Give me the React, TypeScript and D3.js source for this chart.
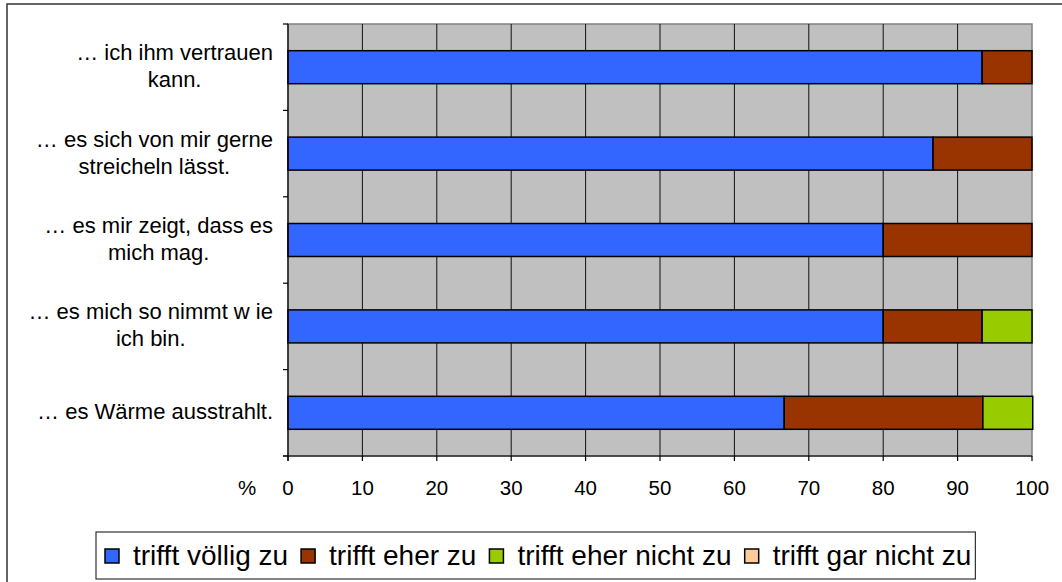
import React, { useRef, useEffect } from 'react'
import { select, scaleLinear, scaleBand, range } from 'd3'

// categories from top to bottom, each label split in its lines
const categories: string[][] = [
    ['… ich ihm vertrauen', 'kann.'],
    ['… es sich von mir gerne', 'streicheln lässt.'],
    ['… es mir zeigt, dass es', 'mich mag.'],
    ['… es mich so nimmt w ie', 'ich bin.'],
    ['… es Wärme ausstrahlt.'],
]
const seriesNames = ['trifft völlig zu', 'trifft eher zu', 'trifft eher nicht zu', 'trifft gar nicht zu']
const seriesColors = ['#3366FF', '#993300', '#99CC00', '#FFCC99']
const voelligZu = [93.3, 86.7, 80, 80, 66.7]
const eherZu = [6.7, 13.3, 20, 13.3, 26.7]
const eherNichtZu = [0, 0, 0, 6.7, 6.7]
const garNichtZu = [0, 0, 0, 0, 0]
const xTicks = [0, 10, 20, 30, 40, 50, 60, 70, 80, 90, 100]

const FONT = '"Liberation Sans", Arial, sans-serif'

export default function App() {
    const svgRef = useRef<SVGSVGElement>(null)
    const width = 1062
    const height = 582
    const margin = { top: 24, right: 30, bottom: 126, left: 288 }

    useEffect(() => {
        draw()
    }, [])

    const draw = () => {
        const svg = select(svgRef.current)
        svg.selectAll('*').remove()

        const values = [voelligZu, eherZu, eherNichtZu, garNichtZu]
        const x = scaleLinear().domain([0, 100]).range([margin.left, width - margin.right])
        const y = scaleBand<number>()
            .domain(range(categories.length))
            .range([margin.top, height - margin.bottom])
        const barH = y.bandwidth() * 0.382
        const x0 = x(0), x1 = x(100)
        const y0 = margin.top, y1 = height - margin.bottom

        // outer frame
        svg.append('rect')
            .attr('x', 7).attr('y', 4)
            .attr('width', width).attr('height', height)
            .attr('fill', 'white').attr('stroke', '#333').attr('stroke-width', 1.5)

        // plot area
        svg.append('rect')
            .attr('x', x0).attr('y', y0)
            .attr('width', x1 - x0).attr('height', y1 - y0)
            .attr('fill', '#C0C0C0').attr('stroke', '#808080').attr('stroke-width', 1.5)

        // vertical grid
        svg.append('g').selectAll('line')
            .data(xTicks.slice(1, -1))
            .join('line')
            .attr('x1', d => x(d)).attr('x2', d => x(d))
            .attr('y1', y0).attr('y2', y1)
            .attr('stroke', '#111').attr('stroke-width', 1)

        // stacked bars
        categories.forEach((_, i) => {
            let acc = 0
            values.forEach((s, k) => {
                const v = s[i]
                if (v > 0) {
                    svg.append('rect')
                        .attr('x', x(acc)).attr('y', y(i)! + (y.bandwidth() - barH) / 2)
                        .attr('width', x(acc + v) - x(acc)).attr('height', barH)
                        .attr('fill', seriesColors[k]).attr('stroke', '#000').attr('stroke-width', 1.5)
                }
                acc += v
            })
        })

        // axes
        svg.append('line')
            .attr('x1', x0).attr('x2', x0).attr('y1', y0).attr('y2', y1 + 5)
            .attr('stroke', '#000').attr('stroke-width', 1.2)
        svg.append('line')
            .attr('x1', x0 - 5).attr('x2', x1).attr('y1', y1).attr('y2', y1)
            .attr('stroke', '#000').attr('stroke-width', 1.2)
        svg.append('g').selectAll('line')
            .data(range(categories.length + 1))
            .join('line')
            .attr('x1', x0 - 5).attr('x2', x0)
            .attr('y1', i => margin.top + i * y.step()).attr('y2', i => margin.top + i * y.step())
            .attr('stroke', '#000').attr('stroke-width', 1.2)
        svg.append('g').selectAll('line')
            .data(xTicks)
            .join('line')
            .attr('x1', d => x(d)).attr('x2', d => x(d))
            .attr('y1', y1).attr('y2', y1 + 5)
            .attr('stroke', '#000').attr('stroke-width', 1.2)
        svg.append('g').selectAll('text')
            .data(xTicks)
            .join('text')
            .attr('x', d => x(d)).attr('y', y1 + 39)
            .attr('text-anchor', 'middle')
            .attr('font-family', FONT).attr('font-size', 20.5)
            .text(d => d)
        svg.append('text')
            .attr('x', 247).attr('y', y1 + 39)
            .attr('text-anchor', 'middle')
            .attr('font-family', FONT).attr('font-size', 20.5)
            .text('%')

        // category labels: block right-aligned, lines centred within block
        const lineH = 27
        categories.forEach((lines, i) => {
            const g = svg.append('g')
            const texts = lines.map(l => g.append('text')
                .attr('font-family', FONT).attr('font-size', 22)
                .text(l))
            const maxW = Math.max(...texts.map(t => (t.node() as SVGTextElement).getComputedTextLength()))
            const cx = x0 - 15 - maxW / 2
            const cy = y(i)! + y.bandwidth() / 2
            texts.forEach((t, j) => {
                t.attr('x', cx).attr('text-anchor', 'middle')
                    .attr('y', cy + 6.5 + (j - (lines.length - 1) / 2) * lineH)
            })
        })

        // legend
        const lg = svg.append('g')
        const lx0 = 96, ly0 = 532, lh = 47
        const box = lg.append('rect')
            .attr('x', lx0).attr('y', ly0).attr('height', lh)
            .attr('fill', 'white').attr('stroke', '#333').attr('stroke-width', 1.2)
        let cur = 105
        seriesNames.forEach((name, k) => {
            lg.append('rect')
                .attr('x', cur).attr('y', ly0 + 17).attr('width', 14).attr('height', 14)
                .attr('fill', seriesColors[k]).attr('stroke', '#000').attr('stroke-width', 1.5)
            const t = lg.append('text')
                .attr('x', cur + 28).attr('y', ly0 + 33)
                .attr('font-family', FONT).attr('font-size', 28)
                .text(name)
            cur += 28 + (t.node() as SVGTextElement).getComputedTextLength() + 13
        })
        box.attr('width', cur - 13 + 4 - lx0)
    }

    return (
        <svg ref={svgRef} width={width} height={height}
            style={{ position: 'absolute', left: 0, top: 0, display: 'block', background: 'white' }} />
    )
}
